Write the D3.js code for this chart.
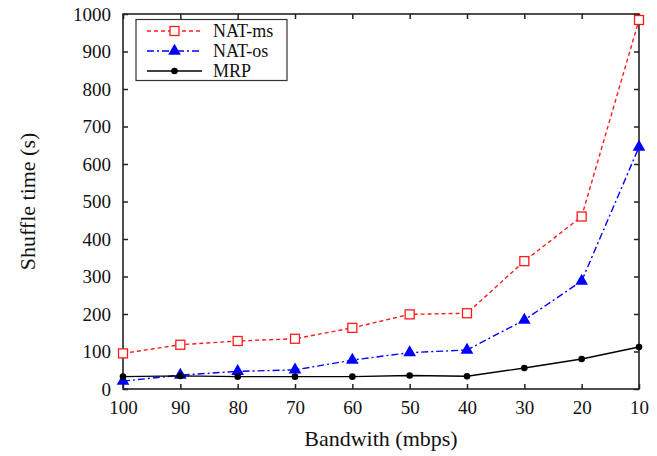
<!DOCTYPE html>
<html>
<head>
<meta charset="utf-8">
<script src="https://cdn.jsdelivr.net/npm/d3@7/dist/d3.min.js"></script>
<style>
  html, body { margin: 0; padding: 0; background: #fff; }
  svg { display: block; }
</style>
</head>
<body>
<svg id="chart" width="657" height="456"></svg>
<script>
// Bandwidth categories (mbps), left to right
const bandwidth = [100, 90, 80, 70, 60, 50, 40, 30, 20, 10];
// Shuffle time (s) for each approach
const natMs = [95, 118, 128, 134, 163, 199, 202, 341, 460, 984];
const natOs = [21, 37, 47, 51, 77, 97, 104, 184, 288, 645];
const mrp   = [33, 35, 33, 33, 33, 36, 34, 56, 80, 112];
const yTicks = [0, 100, 200, 300, 400, 500, 600, 700, 800, 900, 1000];

const FONT = "Liberation Serif";

const series = [
  { name: "NAT-ms", values: natMs, color: "#ff1a1a", dash: "4,3", marker: "square" },
  { name: "NAT-os", values: natOs, color: "#0000ff", dash: "7,3,2,3", marker: "triangle" },
  { name: "MRP", values: mrp, color: "#000000", dash: null, marker: "circle" }
];

const svg = d3.select("#chart");
const L = 123, R = 639, T = 14, B = 389;

const x = d3.scalePoint().domain(bandwidth).range([L, R]);
const y = d3.scaleLinear().domain([0, 1000]).range([B, T]);

const tickLen = 5;

// left-anchored text, shifted by its measured width (frac 0.5 = centred, 1 = right-aligned)
function alignText(sel, frac) {
  sel.each(function () {
    const w = this.getComputedTextLength();
    const x0 = +(this.getAttribute("x") || 0);
    this.setAttribute("text-anchor", "start");
    this.setAttribute("x", x0 - w * frac);
  });
}

// frame and inward ticks on all four sides
const g = svg.append("g");
const gx = g.append("g").attr("transform", `translate(0,${B})`)
  .call(d3.axisBottom(x).tickSizeInner(-tickLen).tickSizeOuter(0).tickPadding(12));
g.append("g").attr("transform", `translate(0,${T})`)
  .call(d3.axisTop(x).tickSizeInner(-tickLen).tickSizeOuter(0).tickFormat(""));
const gy = g.append("g").attr("transform", `translate(${L},0)`)
  .call(d3.axisLeft(y).tickValues(yTicks).tickFormat(d3.format("d"))
    .tickSizeInner(-tickLen).tickSizeOuter(0).tickPadding(12));
g.append("g").attr("transform", `translate(${R},0)`)
  .call(d3.axisRight(y).tickValues(yTicks).tickSizeInner(-tickLen).tickSizeOuter(0).tickFormat(""));
g.selectAll(".domain").remove();
g.selectAll("g").attr("text-anchor", null).attr("font-family", FONT);
g.selectAll("line").attr("stroke", "#222").attr("stroke-width", 1.5);
g.selectAll("text").attr("fill", "#111").attr("font-family", FONT).attr("font-size", 19);
alignText(gx.selectAll("text"), 0.5);
alignText(gy.selectAll("text"), 1);
svg.append("rect").attr("x", L).attr("y", T).attr("width", R - L).attr("height", B - T)
  .attr("fill", "none").attr("stroke", "#222").attr("stroke-width", 1.6);

// axis titles
svg.append("text").attr("x", (L + R) / 2).attr("y", 446)
  .attr("font-family", FONT).attr("fill", "#111")
  .attr("font-size", 22).text("Bandwith (mbps)")
  .call(alignText, 0.5);
svg.append("text").attr("transform", `translate(35,${(T + B) / 2}) rotate(-90)`)
  .attr("x", 0).attr("y", 0)
  .attr("font-family", FONT).attr("fill", "#111")
  .attr("font-size", 22).text("Shuffle time (s)")
  .call(alignText, 0.5);

// marker drawing
function drawMarker(sel, s, cx, cy) {
  if (s.marker === "square") {
    sel.append("rect").attr("x", cx - 4.5).attr("y", cy - 4.5).attr("width", 9).attr("height", 9)
      .attr("fill", "#fff").attr("stroke", s.color).attr("stroke-width", 1.3);
  } else if (s.marker === "triangle") {
    sel.append("path").attr("transform", `translate(${cx},${cy})`)
      .attr("d", d3.symbol(d3.symbolTriangle, 70)()).attr("fill", s.color);
  } else {
    sel.append("circle").attr("cx", cx).attr("cy", cy).attr("r", 3.3).attr("fill", s.color);
  }
}

const line = d3.line().x((d, i) => x(bandwidth[i])).y(d => y(d));

series.forEach(s => {
  const sg = svg.append("g");
  sg.append("path").attr("d", line(s.values)).attr("fill", "none")
    .attr("stroke", s.color).attr("stroke-width", 1.4)
    .attr("stroke-dasharray", s.dash);
  s.values.forEach((v, i) => drawMarker(sg, s, x(bandwidth[i]), y(v)));
});

// legend
const lg = svg.append("g");
lg.append("rect").attr("x", 136).attr("y", 19.5).attr("width", 151).attr("height", 61)
  .attr("fill", "#fff").attr("stroke", "#333").attr("stroke-width", 1.2);
series.forEach((s, i) => {
  const ly = 31 + i * 20;
  lg.append("line").attr("x1", 147).attr("x2", 202).attr("y1", ly).attr("y2", ly)
    .attr("stroke", s.color).attr("stroke-width", 1.4).attr("stroke-dasharray", s.dash);
  drawMarker(lg, s, 174.5, ly);
  lg.append("text").attr("x", 213).attr("y", ly + 6).attr("font-size", 18)
    .attr("font-family", FONT).attr("fill", "#111").text(s.name);
});
</script>
</body>
</html>
